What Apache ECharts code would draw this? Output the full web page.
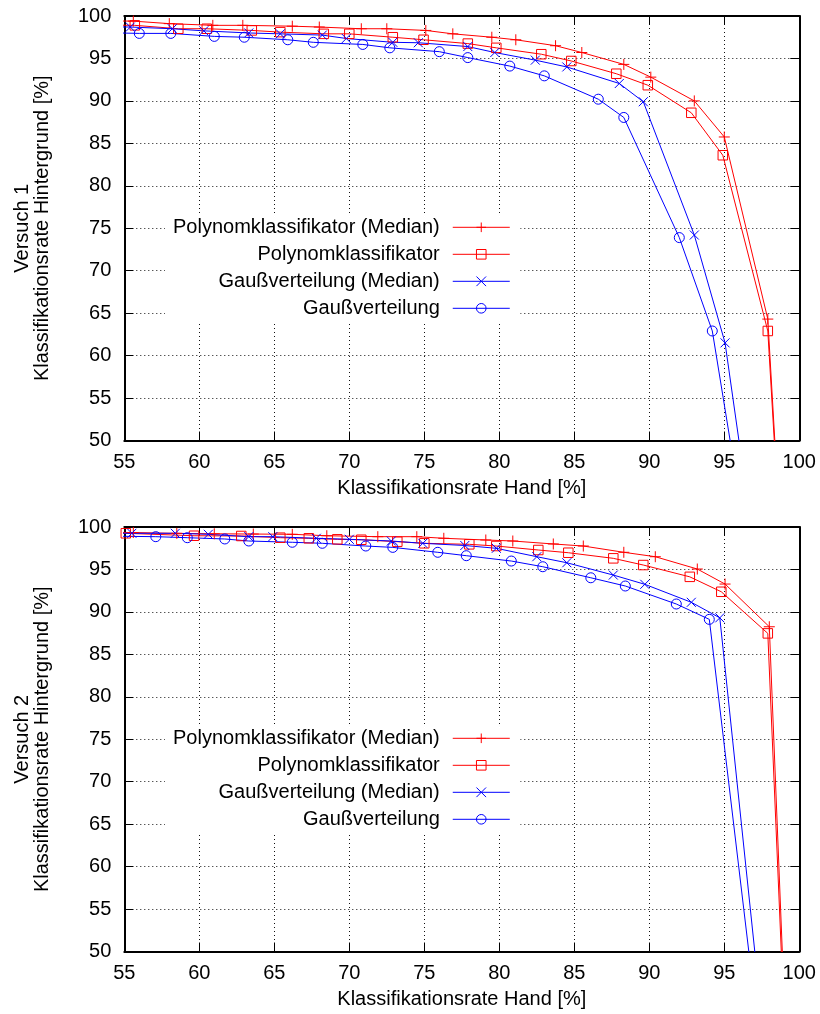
<!DOCTYPE html>
<html>
<head>
<meta charset="utf-8">
<script src="https://cdn.jsdelivr.net/npm/echarts@6/dist/echarts.min.js"></script>
<style>
  html, body { margin: 0; padding: 0; background: #fff; }
  #chart { width: 820px; height: 1014px; }
</style>
</head>
<body>
<div id="chart"></div>
<script>
// Axis ranges and ticks (percent)
const xMin = 55, xMax = 100, xStep = 5;
const yMin = 50, yMax = 100, yStep = 5;

// Legend / series names
const seriesNames = [
  'Polynomklassifikator (Median)',
  'Polynomklassifikator',
  'Gaußverteilung (Median)',
  'Gaußverteilung'
];
const panelTitles = ['Versuch 1', 'Versuch 2'];
const xTitle = 'Klassifikationsrate Hand [%]';
const yTitle = 'Klassifikationsrate Hintergrund [%]';

// Versuch 1: [Klassifikationsrate Hand, Klassifikationsrate Hintergrund]
const v1PolyMedian = [
  [0, 100], [55.6, 99.4], [58.0, 99.1], [60.9, 98.9], [62.9, 98.9], [66.2, 98.8],
  [68.0, 98.7], [70.8, 98.5], [72.5, 98.5], [75.1, 98.3], [76.9, 97.9], [79.5, 97.5],
  [81.1, 97.2], [83.75, 96.5], [85.5, 95.7], [88.3, 94.3], [90.1, 92.8], [93.0, 90.0],
  [95.0, 85.75], [97.9, 64.3], [100, 0]
];
const v1Poly = [
  [0, 100], [55.7, 98.9], [58.6, 98.5], [60.5, 98.5], [63.5, 98.3], [65.4, 98.1],
  [68.3, 97.9], [70.0, 97.9], [72.9, 97.5], [74.95, 97.2], [77.9, 96.75], [79.8, 96.25],
  [82.8, 95.5], [84.8, 94.7], [87.8, 93.2], [89.9, 91.85], [92.8, 88.6], [94.9, 83.6],
  [97.9, 62.9], [100, 0]
];
const v1GaussMedian = [
  [0, 100], [55.4, 98.7], [58.2, 98.5], [60.3, 98.25], [63.3, 98.0], [65.4, 97.9],
  [68.2, 97.75], [69.8, 97.35], [72.9, 96.9], [74.6, 96.85], [77.9, 96.4], [79.7, 95.7],
  [82.4, 94.8], [84.5, 94.0], [88.0, 92.05], [89.6, 89.9], [93.0, 74.2], [95.05, 61.5],
  [100, 0]
];
const v1Gauss = [
  [0, 100], [56.0, 97.95], [58.1, 97.95], [61.0, 97.6], [63.0, 97.5], [65.9, 97.2],
  [67.6, 96.9], [70.9, 96.65], [72.7, 96.25], [76.0, 95.8], [77.9, 95.1], [80.7, 94.1],
  [83.0, 92.95], [86.6, 90.2], [88.3, 88.05], [92.0, 73.9], [94.2, 62.9], [100, 0]
];

// Versuch 2
const v2PolyMedian = [
  [0, 100], [55.6, 99.35], [58.5, 99.25], [61.0, 99.2], [63.6, 99.17], [66.2, 99.14],
  [68.5, 98.97], [71.9, 98.86], [74.5, 98.86], [76.3, 98.67], [79.1, 98.47], [80.9, 98.35],
  [83.6, 98.0], [85.6, 97.76], [88.3, 97.02], [90.4, 96.5], [93.2, 95.05], [95.05, 93.28],
  [98.0, 88.25], [100, 0]
];
const v2Poly = [
  [0, 100], [55.1, 99.26], [59.65, 98.97], [62.8, 98.94], [65.4, 98.74], [67.3, 98.67],
  [69.2, 98.55], [70.8, 98.5], [73.2, 98.27], [75.0, 98.08], [78.0, 97.96], [79.8, 97.76],
  [82.6, 97.29], [84.6, 96.97], [87.6, 96.31], [89.6, 95.52], [92.7, 94.13], [94.8, 92.37],
  [97.9, 87.47], [100, 0]
];
const v2GaussMedian = [
  [0, 100], [55.5, 99.26], [58.4, 99.26], [60.6, 99.14], [63.3, 98.86], [64.9, 98.86],
  [67.8, 98.67], [70.0, 98.55], [72.8, 98.35], [74.9, 98.08], [77.7, 97.82], [79.8, 97.49],
  [82.5, 96.5], [84.5, 95.79], [87.6, 94.34], [89.7, 93.25], [92.8, 91.13], [94.7, 89.3],
  [100, 0]
];
const v2Gauss = [
  [0, 100], [57.1, 98.86], [59.2, 98.74], [61.7, 98.59], [63.3, 98.35], [66.2, 98.2],
  [68.2, 98.08], [71.1, 97.76], [72.9, 97.6], [75.9, 97.02], [77.8, 96.62], [80.8, 95.99],
  [82.9, 95.32], [86.1, 94.02], [88.4, 93.05], [91.8, 90.93], [94.0, 89.12], [100, 0]
];

const panelData = [
  [v1PolyMedian, v1Poly, v1GaussMedian, v1Gauss],
  [v2PolyMedian, v2Poly, v2GaussMedian, v2Gauss]
];

const FONT = '"Liberation Sans", Arial, Helvetica, sans-serif';
const RED = '#ff0000';
const BLUE = '#0000ff';

// Marker styles in series order: plus, open square, cross, open circle
const markers = [
  { symbol: 'path://M0,5L10,5M5,0L5,10', size: 11, color: RED },
  { symbol: 'rect', size: 9.5, color: RED },
  { symbol: 'path://M0,0L10,10M0,10L10,0', size: 9, color: BLUE },
  { symbol: 'circle', size: 10, color: BLUE }
];

const gridTops = [16, 527];
const gridH = 424.5;
const gridLeft = 124.3;
const gridW = 675;

const grids = [], xAxes = [], yAxes = [], series = [], legends = [];

gridTops.forEach((top, g) => {
  grids.push({ left: gridLeft, top: top, width: gridW, height: gridH,
               outerBoundsMode: 'none', containLabel: false });

  const frameLine = { show: true, lineStyle: { color: '#000', width: 2 } };
  const innerTick = { show: true, inside: true, length: 9, lineStyle: { color: '#000', width: 1 } };
  const dotted = { show: true, lineStyle: { color: '#111', width: 1, type: [1, 3] } };
  const labelStyle = { fontFamily: FONT, fontSize: 20, color: '#000' };

  xAxes.push({
    type: 'value', gridIndex: g, position: 'bottom',
    min: xMin, max: xMax, interval: xStep,
    axisLine: frameLine, axisTick: innerTick, splitLine: dotted,
    axisLabel: Object.assign({ margin: 12 }, labelStyle),
    name: xTitle, nameLocation: 'middle', nameGap: 38, nameMoveOverlap: false,
    nameTextStyle: labelStyle
  });
  xAxes.push({
    type: 'value', gridIndex: g, position: 'top',
    min: xMin, max: xMax, interval: xStep,
    axisLine: frameLine, axisTick: innerTick, splitLine: { show: false },
    axisLabel: { show: false }
  });
  yAxes.push({
    type: 'value', gridIndex: g, position: 'left',
    min: yMin, max: yMax, interval: yStep,
    axisLine: frameLine, axisTick: innerTick, splitLine: dotted,
    axisLabel: Object.assign({ margin: 13 }, labelStyle),
    name: panelTitles[g] + '\n' + yTitle, nameLocation: 'middle', nameRotate: 90,
    nameGap: 72, nameMoveOverlap: false,
    nameTextStyle: Object.assign({ lineHeight: 20, align: 'center' }, labelStyle)
  });
  yAxes.push({
    type: 'value', gridIndex: g, position: 'right',
    min: yMin, max: yMax, interval: yStep,
    axisLine: frameLine, axisTick: innerTick, splitLine: { show: false },
    axisLabel: { show: false }
  });

  panelData[g].forEach((data, i) => {
    const m = markers[i];
    series.push({
      type: 'line', name: seriesNames[i],
      xAxisIndex: g * 2, yAxisIndex: g * 2,
      data: data,
      symbol: m.symbol, symbolSize: m.size, showAllSymbol: true,
      itemStyle: { color: 'transparent', borderColor: m.color, borderWidth: 1 },
      lineStyle: { color: m.color, width: 1 },
      emphasis: { disabled: true },
      clip: true, animation: false, z: 3
    });
  });

  legends.push({
    orient: 'vertical', align: 'right',
    left: 165, top: top + 198.3,
    padding: [3, 10, 3, 8],
    backgroundColor: '#fff',
    itemWidth: 57, itemHeight: 12, itemGap: 7,
    selectedMode: false,
    data: seriesNames,
    lineStyle: { width: 1 },
    itemStyle: { borderWidth: 1 },
    textStyle: { fontFamily: FONT, fontSize: 20, color: '#000', lineHeight: 20, padding: [0, 8, 0, 0] }
  });
});

const chart = echarts.init(document.getElementById('chart'), null, { renderer: 'canvas' });
chart.setOption({
  backgroundColor: '#fff',
  animation: false,
  grid: grids,
  xAxis: xAxes,
  yAxis: yAxes,
  legend: legends,
  series: series
});
</script>
</body>
</html>
